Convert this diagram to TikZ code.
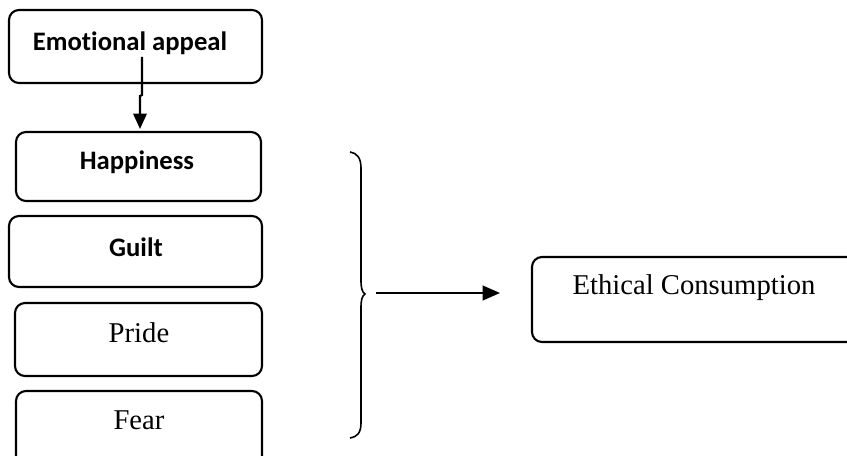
\documentclass[tikz,border=0pt]{standalone}
\usepackage{fontspec}
\setmainfont{Liberation Serif}
\newfontfamily\carlitofam[Ligatures={NoCommon}]{Carlito}
\usetikzlibrary{arrows.meta}
\begin{document}
\begin{tikzpicture}[x=0.75pt,y=-0.75pt,
  box/.style={draw, line width=1.6pt, rounded corners=7.5pt, inner sep=0pt, outer sep=0pt, anchor=north west},
  sanst/.style={font=\carlitofam\bfseries\fontsize{20}{22}\selectfont, inner sep=0pt},
  seriftxt/.style={font=\fontsize{21.5}{24}\selectfont, inner sep=0pt},
  arr/.style={line width=1.6pt, -{Triangle[length=11.5pt,width=10pt]}}]
\useasboundingbox (0,0) rectangle (847,456);
\clip (0,0) rectangle (847,456);
\node[box, minimum width=189.75pt, minimum height=54.75pt] (ea) at (9,10) {};
\node[box, minimum width=183.75pt, minimum height=51.75pt] (hp) at (16,132) {};
\node[box, minimum width=189.75pt, minimum height=53.25pt] (gu) at (9,216) {};
\node[box, minimum width=185.25pt, minimum height=54.75pt] (pr) at (15,303) {};
\node[box, minimum width=184.5pt, minimum height=60pt] (fe) at (16,391) {};
\node[box, minimum width=253.5pt, minimum height=63.75pt] (ec) at (532,257) {};
\node[sanst] (tea) at (130,43) {Emotional appeal};
\node[sanst] (thp) at (137,162) {Happiness};
\node[sanst] (tgu) at (136,247) {Guilt};
\node[seriftxt] (tpr) at (139,333) {Pride};
\node[seriftxt] (tfe) at (139,420) {Fear};
\node[seriftxt] (tec) at (694,288) {Ethical Consumption};
\coordinate (a1) at (142,57);
\coordinate (a2) at (140,129);
\draw[arr] (a1) -- (142,95) -- (140,96) -- (a2);
\draw[line width=1.2pt] (350,152) .. controls (357,153) and (361,158) .. (361,168) -- (361,280) .. controls (361,288) and (362,292) .. (365,294) .. controls (362,296) and (361,300) .. (361,308) -- (361,423) .. controls (361,433) and (357,437) .. (350,438);
\coordinate (b1) at (376,293);
\coordinate (b2) at (500,293);
\draw[line width=1.6pt, -{Triangle[length=13pt,width=11pt]}] (b1) -- (b2);
\end{tikzpicture}
\end{document}
